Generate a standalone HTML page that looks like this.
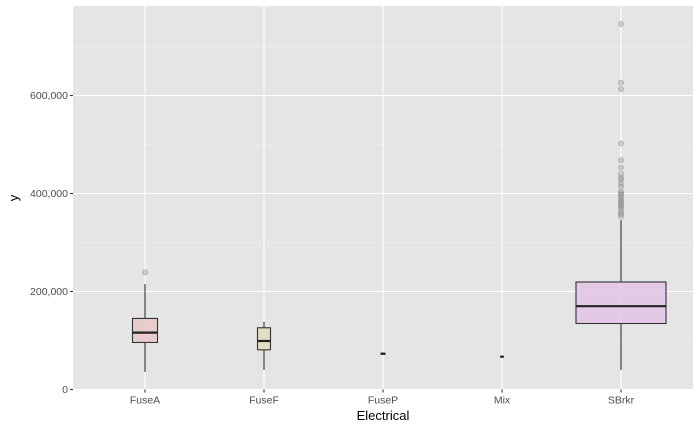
<!DOCTYPE html>
<html><head><meta charset="utf-8"><style>
body{margin:0;background:#fff;}
svg text{font-family:"Liberation Sans",sans-serif;}
</style></head><body>
<svg id="chart" width="700" height="432"></svg>
<script>
const categories=["FuseA","FuseF","FuseP","Mix","SBrkr"];
const q1=[96000,81000,72000,66500,134700];
const median=[116000,99000,73000,67000,170000];
const q3=[145000,126000,74000,67500,219400];
const whiskerLow=[36000,40000,72000,66500,40000];
const whiskerHigh=[215000,138000,74000,67500,346000];
const boxWidths=[25,13,4,3,90];
const fills=["#e9c8c8","#dedcbc","#c8e2cc","#c8d8e8","#e3c4e6"];
const outliers=[[239000],[],[],[],[746000,626000,613000,502000,468000,453000,440000,432000,428000,420000,414000,404000,400000,397000,392000,387000,384000,380000,376000,373000,368000,362000,358000,353000]];
const yTicks=[0,200000,400000,600000];
const yTickLabels=["0","200,000","400,000","600,000"];

const NS="http://www.w3.org/2000/svg";
const svg=document.getElementById("chart");
const L=73,R=693,T=6,B=389.5;
const yScale=v=>B-v*0.00049;
const xScale=i=>145+i*119;
function mk(tag,attrs,parent){const e=document.createElementNS(NS,tag);for(const k in attrs)e.setAttribute(k,attrs[k]);(parent||svg).appendChild(e);return e;}

const panel=mk("rect",{x:L,y:T,width:R-L,height:B-T,fill:"#e5e5e5"});


// minor grid
for(let i=0;i<yTicks.length;i++){
  const v=yTicks[i]+100000;const y=yScale(v);
  if(y>T){const g=mk("line",{x1:L,x2:R,y1:y,y2:y,stroke:"#f2f2f2","stroke-width":0.6});
  
  }
}
yTicks.forEach((v,i)=>{
  const y=yScale(v);
  const g=mk("line",{x1:L,x2:R,y1:y,y2:y,stroke:"#fff","stroke-width":1.1});
  
  
  const t=mk("line",{x1:L-3,x2:L,y1:y,y2:y,stroke:"#333","stroke-width":1.1});
  
  
  const tx=mk("text",{x:L-5,y:y+3.5,"text-anchor":"end","font-size":"10.5",fill:"#4d4d4d"});
  tx.textContent=yTickLabels[i];
  
  
});
categories.forEach((c,i)=>{
  const x=xScale(i);
  const g=mk("line",{x1:x,x2:x,y1:T,y2:B,stroke:"#fff","stroke-width":1.1});
  
  
  const t=mk("line",{x1:x,x2:x,y1:B,y2:B+3,stroke:"#333","stroke-width":1.1});
  
  
  const tx=mk("text",{x:x,y:B+14,"text-anchor":"middle","font-size":"10.5",fill:"#4d4d4d"});
  tx.textContent=c;
  
  
});
categories.forEach((c,i)=>{
  const x=xScale(i),w=boxWidths[i];
  const grp=mk("g",{});
  
  
  mk("line",{x1:x,x2:x,y1:yScale(q3[i]),y2:yScale(whiskerHigh[i]),stroke:"#333","stroke-width":1.1},grp);
  mk("line",{x1:x,x2:x,y1:yScale(q1[i]),y2:yScale(whiskerLow[i]),stroke:"#333","stroke-width":1.1},grp);
  mk("rect",{x:x-w/2,y:yScale(q3[i]),width:w,height:Math.max(0.5,yScale(q1[i])-yScale(q3[i])),fill:fills[i],stroke:"#333","stroke-width":1.1,"fill-opacity":0.85},grp);
  mk("line",{x1:x-w/2,x2:x+w/2,y1:yScale(median[i]),y2:yScale(median[i]),stroke:"#222","stroke-width":2.2},grp);
  outliers[i].forEach(v=>{
    const p=mk("circle",{cx:x,cy:yScale(v),r:2.7,fill:"#888","fill-opacity":0.35,stroke:"#777","stroke-opacity":0.4,"stroke-width":0.6},grp);
    
    
  });
});
const xt=mk("text",{x:(L+R)/2,y:420,"text-anchor":"middle","font-size":"13",fill:"#000"});
xt.textContent="Electrical";


const yt=mk("text",{x:0,y:0,"text-anchor":"middle","font-size":"13",fill:"#000",transform:"translate(18,198) rotate(-90)"});
yt.textContent="y";


</script>
</body></html>
